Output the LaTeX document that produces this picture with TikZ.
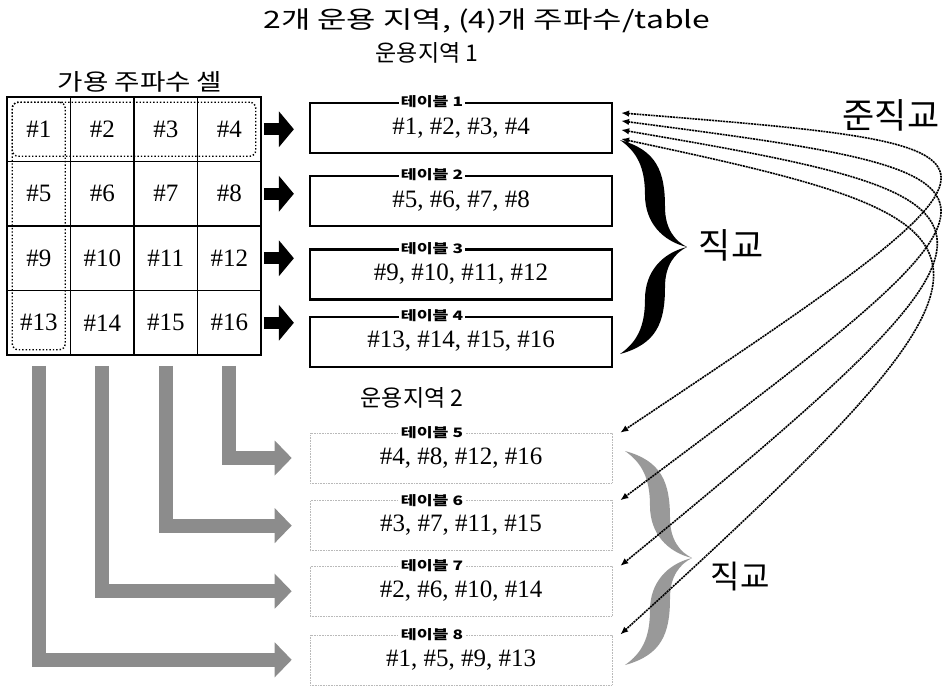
\documentclass[tikz,border=0pt]{standalone}
\usepackage{fontspec}
\setmainfont{Liberation Serif}
\newfontfamily\kr{Noto Sans CJK KR}
\newfontfamily\krwide[FakeStretch=1.33]{Noto Sans CJK KR}
\newfontfamily\krmid[FakeStretch=1.2]{Noto Sans CJK KR}
\usetikzlibrary{arrows.meta,positioning,fit,calc}

\begin{document}
\begin{tikzpicture}[
        x=1pt, y=-1pt,
        font=\fontsize{25}{28}\selectfont,
        cell/.style={
            draw, line width=1.5pt,
            minimum width=63.5pt, minimum height=64.5pt,
            inner sep=0pt
        },
        tablebox/.style={
            draw, line width=2.2pt,
            minimum width=302pt, minimum height=50pt,
            inner sep=0pt
        },
        faintbox/.style={
            draw=gray!55, line width=0.6pt, densely dotted,
            minimum width=302pt, minimum height=50pt,
            inner sep=0pt
        },
        tablab/.style={
            fill=white, inner sep=1.5pt,
            font=\krwide\bfseries\fontsize{13}{15}\selectfont
        },
        groupbox/.style={draw, dotted, line width=1.4pt, rounded corners=6pt, inner sep=-6pt},
        blkarrow/.style={-{Triangle[length=15pt,width=35pt]}, line width=12pt,
            shorten <=2pt, shorten >=15pt},
        grayarrow/.style={-{Triangle[length=17pt,width=34pt]}, line width=14pt,
            draw=black!45, color=black!45, shorten <=10pt, shorten >=18pt},
        qarrow/.style={{Latex[length=8pt,width=6.5pt]}-{Latex[length=8pt,width=6.5pt]},
            line width=1.6pt, dash pattern=on 2pt off 0.8pt},
        curly/.pic={
            \fill (0,0) .. controls (-12,-6) and (-22,-18) .. (-22,-40)
                .. controls (-22,-75) and (-30,-97) .. (-67,-107)
                .. controls (-50,-95) and (-42,-80) .. (-42,-52)
                .. controls (-42,-25) and (-25,-6) .. (0,0)
                .. controls (-25,6) and (-42,25) .. (-42,52)
                .. controls (-42,80) and (-50,95) .. (-67,107)
                .. controls (-30,97) and (-22,75) .. (-22,40)
                .. controls (-22,18) and (-12,6) .. (0,0) -- cycle;
        }
    ]

    \path[use as bounding box, fill=white] (0,0) rectangle (950,689);

    % Titles
    \node[font=\krwide\fontsize{24}{28}\selectfont] (title) at (487,21) {2개 운용 지역, (4)개 주파수/table};
    \node[font=\kr\fontsize{23}{26}\selectfont] (zone1) at (427,53) {운용지역 1};
    \node[font=\krmid\fontsize{23}{26}\selectfont] (cellhead) at (140,82) {가용 주파수 셀};

    % Frequency cell grid
    \foreach \r in {1,...,4}
        \foreach \c in {1,...,4} {
            \pgfmathtruncatemacro\n{4*(\r-1)+\c}
            \node[cell] (cell\n) at ({7+63.5*(\c-0.5)},{97+64.5*(\r-0.5)}) {\#\n};
        }
    \node[groupbox, fit=(cell1)(cell4)] (rowgrp) {};
    \node[groupbox, fit=(cell1)(cell13)] (colgrp) {};

    % Zone 1 tables
    \node[tablebox] (tab1) at (461,128) {\#1, \#2, \#3, \#4};
    \node[tablebox, below=21pt of tab1] (tab2) {\#5, \#6, \#7, \#8};
    \node[tablebox, below=21pt of tab2] (tab3) {\#9, \#10, \#11, \#12};
    \node[tablebox, below=15pt of tab3] (tab4) {\#13, \#14, \#15, \#16};

    % Zone 2 tables
    \node[font=\kr\fontsize{23}{26}\selectfont] (zone2) at (412,398) {운용지역 2};
    \node[faintbox] (tab5) at (461,458) {\#4, \#8, \#12, \#16};
    \node[faintbox, below=17pt of tab5] (tab6) {\#3, \#7, \#11, \#15};
    \node[faintbox, below=15pt of tab6] (tab7) {\#2, \#6, \#10, \#14};
    \node[faintbox, below=18pt of tab7] (tab8) {\#1, \#5, \#9, \#13};

    \foreach \t in {1,...,8}
        \node[tablab] (lab\t) at ([xshift=-29pt]tab\t.north) {테이블 \t};

    % Arrows from the grid
    \foreach \r/\t in {4/1,8/2,12/3,16/4}
        \draw[blkarrow] (cell\r.east) -- (cell\r.east -| tab\t.west);
    \foreach \c/\t in {16/5,15/6,14/7,13/8}
        \draw[grayarrow] (cell\c.south) |- (tab\t.west);

    % Braces
    \pic[black] at (687,247) {curly};
    \pic[black!40] at (692,558) {curly};
    \node[font=\kr\fontsize{35}{38}\selectfont] (orth1) at (731,245) {직교};
    \node[font=\kr\fontsize{32}{36}\selectfont] (orth2) at (740,577) {직교};
    \node[font=\kr\fontsize{35}{38}\selectfont] (quasi) at (891,115) {준직교};

    % Quasi-orthogonal links
    \draw[qarrow] ([xshift=8pt,yshift=-11pt]tab1.north east) .. controls +(420,34) and +(430,-287) .. ([xshift=8pt]tab5.north east);
    \draw[qarrow] ([xshift=8pt,yshift=-19pt]tab1.north east) .. controls +(420,55) and +(430,-320) .. ([xshift=8pt]tab6.north east);
    \draw[qarrow] ([xshift=8pt,yshift=-28pt]tab1.north east) .. controls +(410,70) and +(430,-352) .. ([xshift=8pt]tab7.north east);
    \draw[qarrow] ([xshift=8pt,yshift=-37pt]tab1.north east) .. controls +(400,85) and +(430,-390) .. ([xshift=8pt]tab8.north east);

\end{tikzpicture}
\end{document}
